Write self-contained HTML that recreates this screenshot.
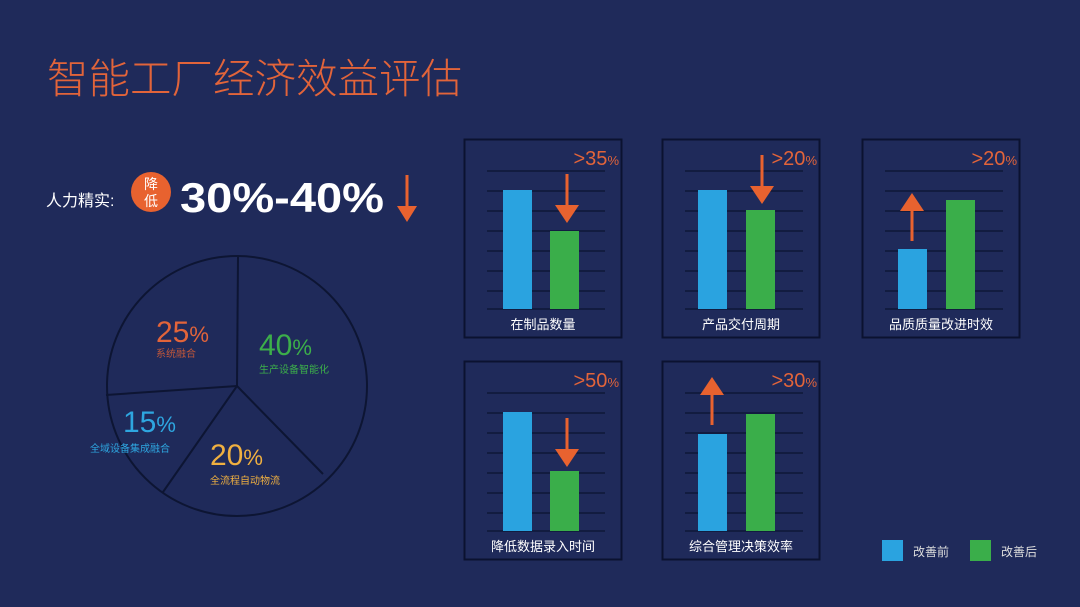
<!DOCTYPE html>
<html><head><meta charset="utf-8"><style>
html,body{margin:0;padding:0;background:#1f2a5a;}
svg{display:block}
text{font-family:"Liberation Sans","Noto Sans CJK SC",sans-serif;}
</style></head><body>
<svg width="1080" height="607" viewBox="0 0 1080 607" xmlns="http://www.w3.org/2000/svg">
<rect width="1080" height="607" fill="#1f2a5a"/>
<text x="47" y="93" font-size="41" fill="#e2643a" font-weight="300" textLength="415" lengthAdjust="spacingAndGlyphs">智能工厂经济效益评估</text>
<text x="46" y="206" font-size="16" fill="#ffffff">人力精实:</text>
<circle cx="151" cy="192" r="20" fill="#e8622f"/>
<text x="151" y="189" font-size="14" fill="#fff" text-anchor="middle">降</text>
<text x="151" y="206" font-size="14" fill="#fff" text-anchor="middle">低</text>
<text x="180" y="212" font-size="42" font-weight="bold" fill="#fff" textLength="204" lengthAdjust="spacingAndGlyphs">30%-40%</text>
<line x1="407" y1="175" x2="407" y2="208" stroke="#e8622f" stroke-width="3"/>
<polygon points="397,206 417,206 407,222" fill="#e8622f"/>
<!-- pie -->
<g stroke="#0d1533" stroke-width="2" fill="none">
<circle cx="237" cy="386" r="130"/>
<line x1="237" y1="386" x2="238" y2="257"/>
<line x1="237" y1="386" x2="323" y2="474"/>
<line x1="237" y1="386" x2="163" y2="492"/>
<line x1="237" y1="386" x2="106" y2="395"/>
</g>
<text x="156" y="342" font-size="30" fill="#e2643a">25<tspan font-size="22">%</tspan></text>
<text x="156" y="357" font-size="10" fill="#c0573a">系统融合</text>
<text x="259" y="355" font-size="30" fill="#3cae4a">40<tspan font-size="22">%</tspan></text>
<text x="259" y="373" font-size="10" fill="#3cae4a">生产设备智能化</text>
<text x="123" y="432" font-size="30" fill="#2ea6e0">15<tspan font-size="22">%</tspan></text>
<text x="90" y="452" font-size="10" fill="#2ea6e0">全域设备集成融合</text>
<text x="210" y="465" font-size="30" fill="#f0b040">20<tspan font-size="22">%</tspan></text>
<text x="210" y="484" font-size="10" fill="#f0b040">全流程自动物流</text>

<defs>
<g id="grid" stroke="#0f1838" stroke-width="1.5">
<line x1="23" y1="32" x2="141" y2="32"/><line x1="23" y1="52" x2="141" y2="52"/>
<line x1="23" y1="72" x2="141" y2="72"/><line x1="23" y1="92" x2="141" y2="92"/>
<line x1="23" y1="112" x2="141" y2="112"/><line x1="23" y1="132" x2="141" y2="132"/>
<line x1="23" y1="152" x2="141" y2="152"/><line x1="23" y1="170" x2="141" y2="170"/>
</g>
</defs>

<g transform="translate(464,139)">
<rect x="0.5" y="0.5" width="157" height="198" fill="#1f2a5a" stroke="#0b1230" stroke-width="2"/>
<use href="#grid"/>
<rect x="39" y="51" width="29" height="119" fill="#2aa3e0"/>
<rect x="86" y="92" width="29" height="78" fill="#3aae4a"/>
<line x1="103" y1="35" x2="103" y2="67" stroke="#e8622f" stroke-width="3"/>
<polygon points="91,66 115,66 103,84" fill="#e8622f"/>
<text x="155" y="26" font-size="20" fill="#e2643a" text-anchor="end">&gt;35<tspan font-size="13">%</tspan></text>
<text x="79" y="190" font-size="13" fill="#fff" text-anchor="middle">在制品数量</text>
</g>
<g transform="translate(662,139)">
<rect x="0.5" y="0.5" width="157" height="198" fill="#1f2a5a" stroke="#0b1230" stroke-width="2"/>
<use href="#grid"/>
<rect x="36" y="51" width="29" height="119" fill="#2aa3e0"/>
<rect x="84" y="71" width="29" height="99" fill="#3aae4a"/>
<line x1="100" y1="16" x2="100" y2="48" stroke="#e8622f" stroke-width="3"/>
<polygon points="88,47 112,47 100,65" fill="#e8622f"/>
<text x="155" y="26" font-size="20" fill="#e2643a" text-anchor="end">&gt;20<tspan font-size="13">%</tspan></text>
<text x="79" y="190" font-size="13" fill="#fff" text-anchor="middle">产品交付周期</text>
</g>
<g transform="translate(862,139)">
<rect x="0.5" y="0.5" width="157" height="198" fill="#1f2a5a" stroke="#0b1230" stroke-width="2"/>
<use href="#grid"/>
<rect x="36" y="110" width="29" height="60" fill="#2aa3e0"/>
<rect x="84" y="61" width="29" height="109" fill="#3aae4a"/>
<line x1="50" y1="102" x2="50" y2="70" stroke="#e8622f" stroke-width="3"/>
<polygon points="38,72 62,72 50,54" fill="#e8622f"/>
<text x="155" y="26" font-size="20" fill="#e2643a" text-anchor="end">&gt;20<tspan font-size="13">%</tspan></text>
<text x="79" y="190" font-size="13" fill="#fff" text-anchor="middle">品质质量改进时效</text>
</g>
<g transform="translate(464,361)">
<rect x="0.5" y="0.5" width="157" height="198" fill="#1f2a5a" stroke="#0b1230" stroke-width="2"/>
<use href="#grid"/>
<rect x="39" y="51" width="29" height="119" fill="#2aa3e0"/>
<rect x="86" y="110" width="29" height="60" fill="#3aae4a"/>
<line x1="103" y1="57" x2="103" y2="89" stroke="#e8622f" stroke-width="3"/>
<polygon points="91,88 115,88 103,106" fill="#e8622f"/>
<text x="155" y="26" font-size="20" fill="#e2643a" text-anchor="end">&gt;50<tspan font-size="13">%</tspan></text>
<text x="79" y="190" font-size="13" fill="#fff" text-anchor="middle">降低数据录入时间</text>
</g>
<g transform="translate(662,361)">
<rect x="0.5" y="0.5" width="157" height="198" fill="#1f2a5a" stroke="#0b1230" stroke-width="2"/>
<use href="#grid"/>
<rect x="36" y="73" width="29" height="97" fill="#2aa3e0"/>
<rect x="84" y="53" width="29" height="117" fill="#3aae4a"/>
<line x1="50" y1="64" x2="50" y2="32" stroke="#e8622f" stroke-width="3"/>
<polygon points="38,34 62,34 50,16" fill="#e8622f"/>
<text x="155" y="26" font-size="20" fill="#e2643a" text-anchor="end">&gt;30<tspan font-size="13">%</tspan></text>
<text x="79" y="190" font-size="13" fill="#fff" text-anchor="middle">综合管理决策效率</text>
</g>

<rect x="882" y="540" width="21" height="21" fill="#2aa3e0"/>
<text x="913" y="556" font-size="12" fill="#ddd">改善前</text>
<rect x="970" y="540" width="21" height="21" fill="#3aae4a"/>
<text x="1001" y="556" font-size="12" fill="#ddd">改善后</text>
</svg>
</body></html>
